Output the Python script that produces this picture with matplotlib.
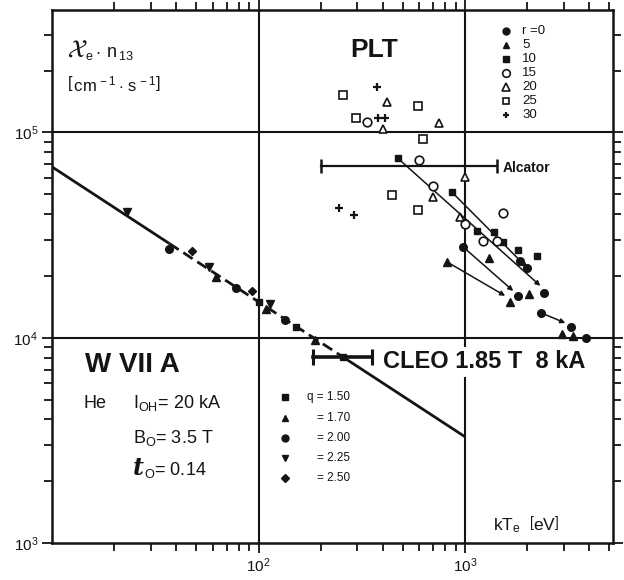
import numpy as np
import matplotlib
matplotlib.use("Agg")
import matplotlib.pyplot as plt
from matplotlib.ticker import LogLocator, NullFormatter, FixedLocator, FixedFormatter

plt.rcParams['font.family'] = ['Liberation Sans', 'DejaVu Sans']
plt.rcParams['mathtext.fontset'] = 'custom'
plt.rcParams['mathtext.rm'] = 'Liberation Sans'
plt.rcParams['mathtext.it'] = 'Liberation Sans:italic'
plt.rcParams['mathtext.bf'] = 'Liberation Sans:bold'
plt.rcParams['mathtext.sf'] = 'Liberation Sans'

INK = '#141414'

# ---------------- W VII A (He, I_OH = 20 kA) ----------------
wvii_q150_T = [100, 151]
wvii_q150_chi = [14950, 11300]
wvii_q170_T = [62.5, 109, 187]
wvii_q170_chi = [19800, 13800, 9780]
wvii_q200_T = [37.0, 78.2, 134]
wvii_q200_chi = [27000, 17500, 12200]
wvii_q225_T = [23.1, 57.8, 113]
wvii_q225_chi = [40900, 22100, 14600]
wvii_q250_T = [47.8, 92.5]
wvii_q250_chi = [26450, 16900]

# power-law fit through the W VII A points
fit_T = [10, 1000]
fit_chi = [68000, 3290]
fit_dash_from = 37      # dashed through the data
fit_dash_to = 256       # solid again from CLEO on

# ---------------- CLEO 1.85 T, 8 kA ----------------
cleo_T = 256
cleo_chi = 8090
cleo_T_range = [183, 354]

# ---------------- Alcator ----------------
alcator_T_range = [200, 1430]
alcator_chi = 68400

# ---------------- PLT, by radius r [cm] ----------------
plt_r0_T = [978, 1849, 2000, 1808, 2417, 2339, 3272, 3864]
plt_r0_chi = [27700, 23600, 21900, 16000, 16500, 13200, 11300, 10000]
plt_r5_T = [818, 1309, 2046, 1653, 2955, 3345]
plt_r5_chi = [23400, 24500, 16400, 15000, 10450, 10200]
plt_r10_T = [473, 865, 1143, 1383, 1528, 1808, 2239]
plt_r10_chi = [74800, 51100, 33000, 32700, 29200, 26700, 25000]
plt_r15_T = [334, 598, 699, 1000, 1528, 1222, 1430]
plt_r15_chi = [112000, 73100, 54700, 35700, 40400, 29600, 29600]
plt_r20_T = [418, 400, 748, 1000, 699, 946]
plt_r20_chi = [141000, 103500, 111000, 60500, 48300, 38700]
plt_r25_T = [256, 591, 296, 625, 442, 591]
plt_r25_chi = [153000, 134000, 118000, 92500, 49400, 41800]
plt_r30_T = [374, 378, 409, 244, 289]
plt_r30_chi = [167000, 117000, 117000, 42800, 39600]

# time evolution arrows (start T, start chi, end T, end chi)
arrow_start_T = [473, 865, 978, 818, 2339]
arrow_start_chi = [74800, 51100, 27700, 23400, 13200]
arrow_end_T = [2313, 2000, 1710, 1563, 3056]
arrow_end_chi = [17900, 21900, 16900, 16000, 11800]

r_labels = ['r =0', '5', '10', '15', '20', '25', '30']
q_labels = ['q = 1.50', '= 1.70', '= 2.00', '= 2.25', '= 2.50']

fig = plt.figure(figsize=(6.24, 5.80), dpi=100)
ax = fig.add_axes([52 / 624, 37 / 580, 561 / 624, 533 / 580])
ax.set_xscale('log')
ax.set_yscale('log')
ax.set_xlim(10, 5200)
ax.set_ylim(1e3, 3.95e5)

# decade lines
for xv in (100, 1000):
    ax.axvline(xv, color=INK, lw=1.5, zorder=1)
for yv in (1e4, 1e5):
    ax.axhline(yv, color=INK, lw=1.5, zorder=1)

# fit line: solid - dashed - solid
lT = np.log10(fit_T)
lC = np.log10(fit_chi)


def fit_at(t):
    return 10 ** np.interp(np.log10(t), lT, lC)


seg1 = [fit_T[0], fit_dash_from]
seg2 = [fit_dash_from, fit_dash_to]
seg3 = [fit_dash_to, fit_T[1]]
ax.plot(seg1, fit_at(seg1), color=INK, lw=2.0, zorder=2, solid_capstyle='butt')
ax.plot(seg2, fit_at(seg2), color=INK, lw=2.0, zorder=2, ls=(0, (4, 2)))
ax.plot(seg3, fit_at(seg3), color=INK, lw=2.0, zorder=2, solid_capstyle='butt')

# W VII A points
wkw = dict(ls='none', color=INK, zorder=4)
ax.plot(wvii_q150_T, wvii_q150_chi, marker='s', ms=4.5, **wkw)
ax.plot(wvii_q170_T, wvii_q170_chi, marker='^', ms=5.5, **wkw)
ax.plot(wvii_q200_T, wvii_q200_chi, marker='o', ms=5.5, **wkw)
ax.plot(wvii_q225_T, wvii_q225_chi, marker='v', ms=5.5, **wkw)
ax.plot(wvii_q250_T, wvii_q250_chi, marker='D', ms=4.5, **wkw)

# CLEO
ax.plot(cleo_T_range, [cleo_chi] * 2, color=INK, lw=2.6, marker='|', ms=11, mew=2.2, zorder=3)
ax.plot([cleo_T], [cleo_chi], marker='s', ms=4, color=INK, zorder=4)

# Alcator
ax.plot(alcator_T_range, [alcator_chi] * 2, color=INK, lw=1.6, marker='|', ms=10, mew=1.8, zorder=3)

# PLT arrows
for x0, y0, x1, y1 in zip(arrow_start_T, arrow_start_chi, arrow_end_T, arrow_end_chi):
    ax.annotate('', xy=(x1, y1), xytext=(x0, y0),
                arrowprops=dict(arrowstyle='-|>', lw=1.1, color=INK,
                                mutation_scale=7, shrinkA=0, shrinkB=0),
                zorder=3)

# PLT points
fkw = dict(ls='none', color=INK, zorder=5)
hkw = dict(ls='none', color=INK, mfc='white', mew=1.2, zorder=5)
ax.plot(plt_r0_T, plt_r0_chi, marker='o', ms=5.5, **fkw)
ax.plot(plt_r5_T, plt_r5_chi, marker='^', ms=5.5, **fkw)
ax.plot(plt_r10_T, plt_r10_chi, marker='s', ms=4.8, **fkw)
ax.plot(plt_r15_T, plt_r15_chi, marker='o', ms=6.2, **hkw)
ax.plot(plt_r20_T, plt_r20_chi, marker='^', ms=6.0, **hkw)
ax.plot(plt_r25_T, plt_r25_chi, marker='s', ms=5.6, **hkw)
ax.plot(plt_r30_T, plt_r30_chi, marker='+', ms=5.5, mew=1.6, ls='none', color=INK, zorder=5)

# r legend
r_markers = [('o', True, 5.0), ('^', True, 5.0), ('s', True, 4.5), ('o', False, 5.5),
             ('^', False, 5.5), ('s', False, 5.0), ('+', True, 5.0)]
for i, (lab, (m, filled, s)) in enumerate(zip(r_labels, r_markers)):
    fy = (543 - (31 + 14 * i)) / 533
    kw = dict(color=INK, ms=s, transform=ax.transAxes, clip_on=False, zorder=5)
    if not filled:
        kw.update(mfc='white', mew=1.2)
    if m == '+':
        kw.update(mew=1.6)
    ax.plot([0.809], [fy], marker=m, ls='none', **kw)
    ax.text(0.838, fy, lab, transform=ax.transAxes, fontsize=9.5, va='center', ha='left', color=INK)

# q legend
q_markers = [('s', 4.0), ('^', 5.0), ('o', 5.0), ('v', 5.0), ('D', 4.3)]
q_rows = [397, 418, 438, 458, 478]
for lab, (m, s), py in zip(q_labels, q_markers, q_rows):
    fy = (543 - py) / 533
    ax.plot([0.4153], [fy], marker=m, ms=s, color=INK, ls='none', transform=ax.transAxes)
    ax.text(0.531, fy, lab, transform=ax.transAxes, fontsize=8.5, va='center', ha='right', color=INK)

# annotations
ax.text(0.027, 0.925, r'$\mathcal{X}$', transform=ax.transAxes, fontsize=18,
        math_fontfamily='stix', va='center', ha='left', color=INK)
ax.text(0.059, 0.918, r'$_{\mathrm{e}}\cdot\,\mathrm{n}_{\,13}$', transform=ax.transAxes,
        fontsize=13, va='center', ha='left', color=INK)
ax.text(0.027, 0.859, r'$\left[\,\mathrm{cm^{\,-1}\cdot\,s^{\,-1}}\right]$', transform=ax.transAxes,
        fontsize=12, va='center', ha='left', color=INK)

ax.text(0.574, 0.925, 'PLT', transform=ax.transAxes, fontsize=19, fontweight='bold',
        va='center', ha='center', color=INK)
ax.text(0.803, 0.7036, 'Alcator', transform=ax.transAxes, fontsize=10, fontweight='bold',
        va='center', ha='left', color=INK)
ax.text(0.0588, 0.334, 'W VII A', transform=ax.transAxes, fontsize=20, fontweight='bold',
        va='center', ha='left', color=INK)

ax.text(0.0553, 0.2533, 'He', transform=ax.transAxes, fontsize=13, va='baseline', ha='left', color=INK)
ax.text(0.1444, 0.2533, r'I$_{\mathrm{OH}}$= 20 kA', transform=ax.transAxes, fontsize=13,
        va='baseline', ha='left', color=INK)
ax.text(0.1444, 0.1876, r'B$_{\mathrm{O}}$= 3.5 T', transform=ax.transAxes, fontsize=13,
        va='baseline', ha='left', color=INK)
ax.text(0.1444, 0.1276, 't', transform=ax.transAxes, fontsize=17, fontweight='bold',
        fontstyle='italic', family=['DejaVu Serif'], va='baseline', ha='left', color=INK)
ax.text(0.1640, 0.1276, r'$_{\mathrm{O}}$= 0.14', transform=ax.transAxes, fontsize=13,
        va='baseline', ha='left', color=INK)

ax.text(0.590, 0.3396, 'CLEO 1.85 T  8 kA', transform=ax.transAxes, fontsize=17,
        fontweight='bold', va='center', ha='left', color=INK, zorder=6,
        bbox=dict(boxstyle='square,pad=0.15', fc='white', ec='none'))

ax.text(0.786, 0.0338, r'kT$_{\mathrm{e}}$  $\left[\mathrm{eV}\right]$', transform=ax.transAxes,
        fontsize=12.5, va='center', ha='left', color=INK)

# axes and ticks
for sp in ax.spines.values():
    sp.set_linewidth(1.8)
    sp.set_color(INK)

ax.xaxis.set_major_locator(FixedLocator([100, 1000]))
ax.xaxis.set_major_formatter(FixedFormatter([r'$10^2$', r'$10^3$']))
ax.xaxis.set_minor_locator(LogLocator(base=10, subs=np.arange(2, 10), numticks=20))
ax.xaxis.set_minor_formatter(NullFormatter())
ax.yaxis.set_major_locator(FixedLocator([1e3, 1e4, 1e5]))
ax.yaxis.set_major_formatter(FixedFormatter([r'$10^3$', r'$10^4$', r'$10^5$']))
ax.yaxis.set_minor_locator(LogLocator(base=10, subs=np.arange(2, 10), numticks=20))
ax.yaxis.set_minor_formatter(NullFormatter())

ax.tick_params(which='both', direction='out', top=True, right=True, width=1.3, color=INK,
               labelsize=11, labelcolor=INK)
ax.tick_params(which='major', length=7)
ax.tick_params(which='minor', length=6)
ax.tick_params(axis='x', which='major', pad=3)
ax.tick_params(axis='y', which='major', pad=3)

fig.savefig('out.png', dpi=100, facecolor='white')
